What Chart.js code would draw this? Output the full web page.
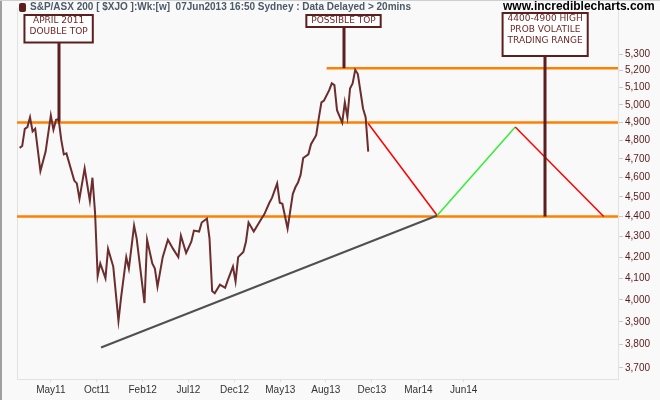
<!DOCTYPE html>
<html>
<head>
  <title>S&P/ASX 200 Weekly</title>
  <script src="https://cdn.jsdelivr.net/npm/chart.js"></script>
  <style>
    html, body { margin: 0; padding: 0; background: #f9f9f9; }
    canvas { display: block; }
  </style>
</head>
<body>
  <canvas id="xjoChart" width="660" height="400"></canvas>

  <script>
    // weekly closes, week number counted from the first bar (early Jan 2011)
    const weeks = [1,2,3,4,5,6,7,9,11,13,14,15,16,17,18,19,22,23,24,26,28,29,30,31,32,34,35,37,39,40,
      42,43,45,46,49,50,52,53,54,56,58,60,62,63,65,67,68,70,71,73,74,75,76,78,80,81,83,84,85,87,
      88,89,91,94,95,97,98,100,101,102,104,106,107,108,109,110,112,113,115,116,117,118,120,121,122,123,125,126,127,128,
      129,130,131,133,134,135];
    const closes = [4760,4770,4865,4875,4930,4850,4865,4635,4740,4940,4860,4915,4920,4805,4725,4730,4585,4570,4490,4650,
      4480,4600,4420,4110,4170,4100,4240,4155,3905,4010,4200,4145,4355,4290,3985,4285,4170,4145,4060,4200,
      4285,4240,4200,4305,4220,4275,4330,4325,4370,4390,4290,4040,4030,4070,4055,4090,4155,4085,4200,4225,
      4275,4370,4325,4390,4410,4470,4495,4570,4470,4465,4340,4515,4550,4575,4615,4705,4725,4780,4830,4925,
      5015,5025,5085,5125,5115,4970,4900,5015,4930,5095,5125,5205,5180,4980,4930,4740];

    const yTicks = [3700,3800,3900,4000,4100,4200,4300,4400,4500,4600,4700,4800,4900,5000,5100,5200,5300];
    const xTickWeeks = [13, 30.7, 48.3, 65.9, 83.6, 101.2, 118.7, 136.4, 154.3, 171.7];
    const xTickLabels = ['May11','Oct11','Feb12','Jul12','Dec12','May13','Aug13','Dec13','Mar14','Jun14'];

    // horizontal support / resistance levels and where each one starts
    const levelPrices = [5215, 4900, 4400];
    const levelStart = [119, 0, 0];

    // projected swing (red down, green up, red down)
    const projWeeks = [135, 161.5, 191.5, 225.5];
    const projPrices = [4895, 4405, 4875, 4400];

    // rising trend line
    const trendWeeks = [32.3, 161.5];
    const trendPrices = [3787, 4405];

    const notes = [
      { lines: ['APRIL 2011', 'DOUBLE TOP'], week: 16, price: 4905 },
      { lines: ['POSSIBLE TOP'], week: 125.5, price: 5215 },
      { lines: ['4400-4900 HIGH', 'PROB VOLATILE', 'TRADING RANGE'], week: 203, price: 4400 }
    ];

    const X_MAX = 231;
    const Y_MIN = 3653, Y_MAX = 5587;
    const maroon = '#5c1f1f';

    const pts = (xs, ys) => xs.map((x, i) => ({ x: x, y: ys[i] }));

    const datasets = [{
      data: pts(weeks, closes),
      borderColor: '#6b2d2d',
      borderWidth: 2
    }, {
      data: pts(projWeeks, projPrices),
      borderColor: '#ff0000',
      borderWidth: 1.5,
      segment: { borderColor: c => c.p0DataIndex === 1 ? '#33ee33' : '#ff0000' }
    }, {
      data: pts(trendWeeks, trendPrices),
      borderColor: '#505050',
      borderWidth: 2
    }];
    levelPrices.forEach((p, i) => {
      datasets.push({
        data: [{ x: levelStart[i], y: p }, { x: X_MAX, y: p }],
        borderColor: '#ff8000',
        borderWidth: 2.5
      });
    });

    const frame = {
      id: 'frame',
      beforeDraw(chart) {
        const c = chart.ctx, a = chart.chartArea;
        c.save();
        c.fillStyle = '#f9f9f9';
        c.fillRect(0, 0, chart.width, chart.height);
        c.strokeStyle = '#e2e2e2';
        c.lineWidth = 1;
        c.beginPath();
        c.moveTo(a.left + 0.5, a.top);
        c.lineTo(a.left + 0.5, a.bottom);
        c.stroke();
        c.fillStyle = '#a0a0a0';
        c.fillRect(0, 0, 2, chart.height);
        c.fillStyle = '#cfcfcf';
        c.fillRect(0, 0, chart.width, 1);
        c.restore();
      },
      afterDraw(chart) {
        const c = chart.ctx, xs = chart.scales.x, ys = chart.scales.y;
        c.save();
        // header
        c.fillStyle = maroon;
        c.beginPath();
        c.roundRect(19, 3, 7, 9, 2);
        c.fill();
        c.textBaseline = 'middle';
        c.textAlign = 'left';
        c.fillStyle = '#4b5a68';
        c.font = 'bold 10px "Liberation Sans Narrow", "Arial Narrow", sans-serif';
        c.fillText('S&P/ASX 200 [ $XJO ]:Wk:[w]  07Jun2013 16:50 Sydney : Data Delayed > 20mins', 30, 7);
        c.fillStyle = '#000';
        c.font = 'bold 12px "Liberation Sans", Arial, sans-serif';
        c.fillText('www.incrediblecharts.com', 503, 7);

        // callout boxes with stems
        c.font = '9px "DejaVu Sans", sans-serif';
        c.textAlign = 'center';
        notes.forEach(n => {
          const px = xs.getPixelForValue(n.week);
          const py = ys.getPixelForValue(n.price);
          const w = Math.max(...n.lines.map(t => c.measureText(t).width)) + 10;
          const top = n.lines.length > 2 ? 13 : 15;
          const h = 12 + (n.lines.length - 1) * 15.5;
          c.fillStyle = maroon;
          c.fillRect(Math.round(px) - 1.5, top + h, 3, py - top - h);
          c.fillStyle = '#ffffff';
          c.fillRect(px - w / 2, top, w, h);
          c.strokeStyle = maroon;
          c.lineWidth = 2;
          c.strokeRect(px - w / 2, top, w, h);
          c.fillStyle = '#6b1f1f';
          n.lines.forEach((t, i) => c.fillText(t, px, top + 6 + i * 11));
        });
        c.restore();
      }
    };

    new Chart(document.getElementById('xjoChart'), {
      type: 'line',
      data: { datasets: datasets },
      options: {
        responsive: false,
        animation: false,
        layout: { padding: { left: 17, top: 3, right: 0, bottom: 0 } },
        elements: { point: { radius: 0 }, line: { tension: 0 } },
        plugins: { legend: { display: false }, tooltip: { enabled: false } },
        scales: {
          x: {
            type: 'linear',
            min: 0,
            max: X_MAX,
            afterBuildTicks: s => { s.ticks = xTickWeeks.map(v => ({ value: v })); },
            afterFit: s => { s.height = 21; },
            grid: { drawOnChartArea: false, tickLength: 3, color: '#dddddd' },
            border: { color: '#e2e2e2' },
            ticks: {
              autoSkip: false,
              maxRotation: 0,
              padding: 2,
              color: '#333333',
              font: { family: '"Liberation Sans Narrow", "Arial Narrow", sans-serif', size: 10 },
              callback: (v, i) => xTickLabels[i]
            }
          },
          y: {
            type: 'logarithmic',
            position: 'right',
            min: Y_MIN,
            max: Y_MAX,
            afterBuildTicks: s => { s.ticks = yTicks.map(v => ({ value: v })); },
            afterFit: s => { s.width = 42; },
            grid: { drawOnChartArea: false, tickLength: 5, color: '#cccccc' },
            border: { color: '#e2e2e2' },
            ticks: {
              padding: 2,
              color: '#5a1a1a',
              font: { family: '"Liberation Sans", Arial, sans-serif', size: 10 },
              callback: v => v.toLocaleString('en-US')
            }
          }
        }
      },
      plugins: [frame]
    });
  </script>
</body>
</html>
